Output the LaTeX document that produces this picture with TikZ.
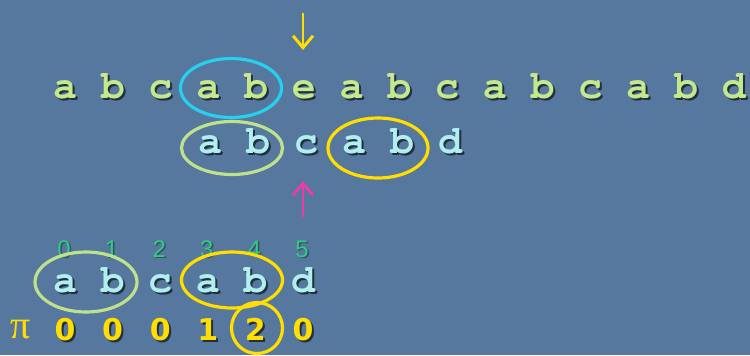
\documentclass[tikz,border=0pt]{standalone}
\usepackage[T1]{fontenc}
\usepackage{fontspec}
\usetikzlibrary{shapes.geometric,arrows.meta}
\newfontfamily\digitfont{DejaVu Sans}
\newfontfamily\indexfont{Liberation Sans}
\newfontfamily\greekfont{Liberation Serif}
\newcommand\courierbold{\fontencoding{T1}\fontfamily{pcr}\fontseries{b}\fontshape{n}\selectfont}
\definecolor{bgblue}{RGB}{86,119,158}
\definecolor{textgreen}{RGB}{196,232,140}
\definecolor{textcyan}{RGB}{176,238,240}
\definecolor{ringcyan}{RGB}{40,208,240}
\definecolor{ringgreen}{RGB}{190,226,140}
\definecolor{ringyellow}{RGB}{255,222,0}
\definecolor{idxgreen}{RGB}{46,206,128}
\definecolor{arrowpink}{RGB}{236,60,170}
\tikzset{
  letter/.style={anchor=base, inner sep=0pt, font=\fontsize{30}{30}\courierbold},
  digit/.style={anchor=base, inner sep=0pt, text=ringyellow, font=\digitfont\bfseries\fontsize{22.5}{22.5}\selectfont},
  index/.style={anchor=base, inner sep=0pt, text=idxgreen, font=\indexfont\fontsize{18}{18}\selectfont},
  castshadow/.style={text=black, text opacity=0.6},
  ring/.style={ellipse, draw, line width=2.4pt, inner sep=0pt},
  pointer/.style={line width=2.2pt, -{Straight Barb[length=9pt, width=15pt, line width=2.2pt]}},
}
\begin{document}
\begin{tikzpicture}[x=0.75pt, y=-0.75pt]
  \fill[bgblue] (0,0) rectangle (750,355);
  \useasboundingbox (0,0) rectangle (750,355);

  % text row
  \foreach \ch [count=\i from 0] in {a,b,c,a,b,e,a,b,c,a,b,c,a,b,d} {
    \node[letter, castshadow] at ({65+47.77*\i+2},100) {\ch};
    \node[letter, text=textgreen] (t\i) at ({65+47.77*\i},98) {\ch};
  }

  % pattern shifted under the text
  \foreach \ch [count=\i from 0] in {a,b,c,a,b,d} {
    \node[letter, castshadow] at ({210+48*\i+2},155) {\ch};
    \node[letter, text=textcyan] (s\i) at ({210+48*\i},153) {\ch};
  }

  % pattern with indices and prefix function
  \foreach \ch [count=\i from 0] in {a,b,c,a,b,d} {
    \node[index, castshadow, text opacity=0.35] at ({64+47.6*\i+1.5},258.5) {\i};
    \node[index] (k\i) at ({64+47.6*\i},257) {\i};
    \node[letter, castshadow] at ({65+47.6*\i+2},294) {\ch};
    \node[letter, text=textcyan] (p\i) at ({65+47.6*\i},292) {\ch};
  }
  \foreach \v [count=\i from 0] in {0,0,0,1,2,0} {
    \node[digit, castshadow] at ({65+47.6*\i+2},342) {\v};
    \node[digit] (f\i) at ({65+47.6*\i},340) {\v};
  }
  \node[anchor=base, inner sep=0pt, text=ringyellow, font=\greekfont\fontsize{30}{30}\selectfont] (pi) at (21,338) {π};

  % rings
  \node[ring, draw=ringcyan, minimum width=75.75pt, minimum height=44.25pt] (ctop) at (231,88) {};
  \node[ring, draw=ringgreen, minimum width=75.75pt, minimum height=39.75pt] (gmid) at (232,148) {};
  \node[ring, draw=ringyellow, minimum width=75pt, minimum height=45pt] (ymid) at (378,148) {};
  \node[ring, draw=ringgreen, minimum width=76.5pt, minimum height=45pt] (gbot) at (86,282) {};
  \node[ring, draw=ringyellow, minimum width=75.75pt, minimum height=42pt] (ybot) at (232,280) {};
  \node[ring, draw=ringyellow, minimum width=38.25pt, minimum height=38.25pt] (ycirc) at (257,328) {};

  % pointers
  \coordinate (dtail) at (303,13);
  \coordinate (dtip) at (303,50);
  \coordinate (utail) at (303,217);
  \coordinate (utip) at (303,181);
  \draw[pointer, draw=ringyellow] (dtail) -- (dtip);
  \draw[pointer, draw=arrowpink] (utail) -- (utip);
\end{tikzpicture}
\end{document}
